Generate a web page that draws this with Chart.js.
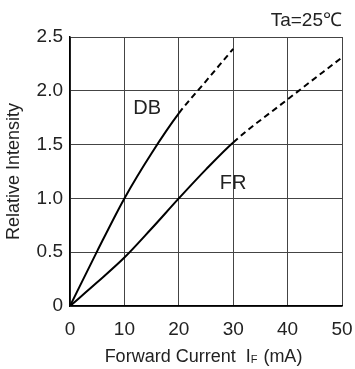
<!DOCTYPE html>
<html>
<head>
<meta charset="utf-8">
<script src="https://cdn.jsdelivr.net/npm/chart.js@4/dist/chart.umd.min.js"></script>
<style>
	html, body { margin: 0; padding: 0; background: #fff; }
	#wrap { width: 355px; height: 369px; }
</style>
</head>
<body>
<div id="wrap"><canvas id="ivChart"></canvas></div>
<script>
// values
const dbCurrent = [0, 5, 10, 15, 20, 25, 30];
const dbIntensity = [0, 0.51, 1.0, 1.42, 1.79, 2.09, 2.39];
const frCurrent = [0, 5, 10, 15, 20, 25, 30, 40, 50];
const frIntensity = [0, 0.22, 0.45, 0.72, 1.0, 1.27, 1.52, 1.92, 2.31];
const xTicks = [0, 10, 20, 30, 40, 50];
const yTicks = [0, 0.5, 1.0, 1.5, 2.0, 2.5];
const dbSolidUntil = 20;
const frSolidUntil = 30;

const toPoints = (xs, ys) => xs.map((x, i) => ({ x: x, y: ys[i] }));
const dashAfter = limit => ({
	borderDash: ctx => ctx.p0.parsed.x >= limit ? [6, 4] : undefined
});

const FONT = '"Liberation Sans", Arial, sans-serif';
const INK = '#222';

// curve names, temperature note and x title with subscript
const notes = {
	id: 'notes',
	afterDraw(chart) {
		const c = chart.ctx;
		const x = chart.scales.x, y = chart.scales.y;
		c.save();
		c.fillStyle = INK;
		c.textBaseline = 'middle';
		c.font = '20px ' + FONT;
		c.textAlign = 'center';
		c.fillText('DB', x.getPixelForValue(14.2), y.getPixelForValue(1.84));
		c.fillText('FR', x.getPixelForValue(30), y.getPixelForValue(1.14));
		c.textAlign = 'right';
		c.font = '19px ' + FONT;
		c.fillText('Ta=25\u2103', chart.chartArea.right, 21);

		// x axis title: Forward Current  I_F (mA)
		const a = 'Forward Current  I', b = 'F', d = ' (mA)';
		const big = '18px ' + FONT, small = '11px ' + FONT;
		c.font = big; const wa = c.measureText(a).width, wd = c.measureText(d).width;
		c.font = small; const wb = c.measureText(b).width;
		let px = (chart.chartArea.left + chart.chartArea.right) / 2 - (wa + wb + wd) / 2 - 3;
		const py = 357;
		c.textAlign = 'left';
		c.font = big; c.fillText(a, px, py); px += wa;
		c.font = small; c.fillText(b, px, py + 3); px += wb + 1;
		c.font = big; c.fillText(d, px, py);
		c.restore();
	}
};

new Chart(document.getElementById('ivChart'), {
	type: 'line',
	data: {
		datasets: [{
			label: 'DB',
			data: toPoints(dbCurrent, dbIntensity),
			borderColor: '#000',
			borderWidth: 2,
			pointRadius: 0,
			cubicInterpolationMode: 'monotone',
			segment: dashAfter(dbSolidUntil)
		}, {
			label: 'FR',
			data: toPoints(frCurrent, frIntensity),
			borderColor: '#000',
			borderWidth: 2,
			pointRadius: 0,
			cubicInterpolationMode: 'monotone',
			segment: dashAfter(frSolidUntil)
		}]
	},
	options: {
		responsive: true,
		maintainAspectRatio: false,
		animation: false,
		layout: { padding: { top: 37, right: 0, left: 0, bottom: 0 } },
		plugins: { legend: { display: false }, tooltip: { enabled: false } },
		scales: {
			x: {
				type: 'linear',
				min: 0, max: 50,
				afterBuildTicks: s => { s.ticks = xTicks.map(v => ({ value: v })); },
				// tick padding also pads the sides, so keep the right gap fixed
				afterFit: s => { s.height = 63; s.paddingRight = 13; },
				grid: { color: '#444', lineWidth: 1, drawTicks: false },
				border: { color: '#000', width: 1.5 },
				ticks: { color: INK, font: { family: FONT, size: 19 }, padding: 12, maxRotation: 0 }
			},
			y: {
				type: 'linear',
				min: 0, max: 2.5,
				afterBuildTicks: s => { s.ticks = yTicks.map(v => ({ value: v })); },
				afterFit: s => { s.width = 70; },
				grid: { color: '#444', lineWidth: 1, drawTicks: false },
				border: { color: '#000', width: 1.5 },
				ticks: {
					color: INK, font: { family: FONT, size: 19 }, padding: 7,
					callback: v => v === 0 ? '0' : v.toFixed(1)
				},
				title: { display: true, text: 'Relative Intensity', color: INK, font: { family: FONT, size: 18 }, padding: { top: 3, bottom: 0 } }
			}
		}
	},
	plugins: [notes]
});
</script>
</body>
</html>
